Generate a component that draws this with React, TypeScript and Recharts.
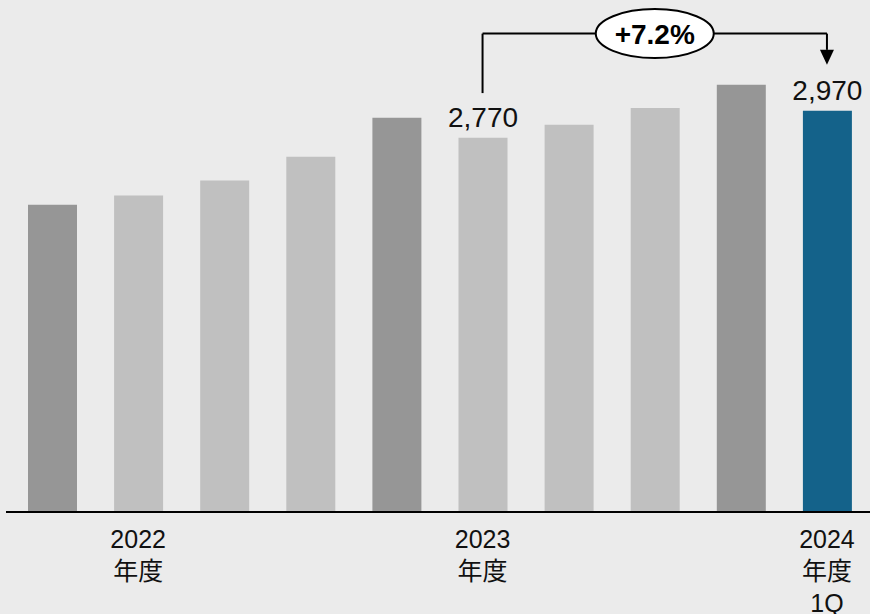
import {
  BarChart,
  Bar,
  Cell,
  XAxis,
  YAxis,
  LabelList,
  ReferenceLine,
  ReferenceDot,
} from "recharts";

const periods = ["p1", "p2", "p3", "p4", "p5", "p6", "p7", "p8", "p9", "p10"];
const values = [2274, 2343, 2454, 2629, 2918, 2770, 2866, 2990, 3162, 2970];
const valueLabels = ["", "", "", "", "", "2,770", "", "", "", "2,970"];
const tickLabels = [
  [],
  ["2022", "年度"],
  [],
  [],
  [],
  ["2023", "年度"],
  [],
  [],
  [],
  ["2024", "年度", "1Q"],
];
const barFills = [
  "#969696", "#c0c0c0", "#c0c0c0", "#c0c0c0", "#969696",
  "#c0c0c0", "#c0c0c0", "#c0c0c0", "#969696", "#14628a",
];
const growthText = "+7.2%";

// bracket levels, in value units
const bracketTop = 3540;
const bracketStart = 3100;
const arrowTip = 3310;
const arrowBase = 3420;

const data = periods.map((p, i) => ({ period: p, value: values[i], label: valueLabels[i] }));

const FONT = "'Liberation Sans', Arial, 'Noto Sans CJK JP', sans-serif";

function PeriodTick(props: any) {
  const { x, y, index } = props;
  const lines = tickLabels[index] || [];
  return (
    <g>
      {lines.map((t: string, i: number) => (
        <text
          key={i}
          x={x}
          y={y + 36 + i * 32}
          textAnchor="middle"
          fontSize={25}
          fontFamily={FONT}
          fill="#111"
        >
          {t}
        </text>
      ))}
    </g>
  );
}

function ValueLabel(props: any) {
  const { x, y, width, value } = props;
  if (!value) return null;
  return (
    <text x={x + width / 2} y={y - 11} textAnchor="middle" fontSize={28} fontFamily={FONT} fill="#111">
      {value}
    </text>
  );
}

function GrowthBadge(props: any) {
  const { cx, cy } = props;
  return (
    <g>
      <ellipse cx={cx} cy={cy} rx={59} ry={24.5} fill="#fff" stroke="#000" strokeWidth={2} />
      <text x={cx} y={cy + 10} textAnchor="middle" fontSize={28} fontWeight="bold" fontFamily={FONT} fill="#000">
        {growthText}
      </text>
    </g>
  );
}

function ArrowHead(props: any) {
  const { cx, cy } = props;
  return <polygon points={`${cx - 7},${cy - 15} ${cx + 7},${cy - 15} ${cx},${cy}`} fill="#000" />;
}

export default function App() {
  return (
    <div style={{ position: "fixed", left: 0, top: 0, width: 870, height: 614, background: "#ebebeb" }}>
      <BarChart width={870} height={614} data={data} margin={{ top: 12, right: 0, bottom: 0, left: 6 }}>
        <XAxis
          dataKey="period"
          height={102}
          interval={0}
          padding={{ left: 3, right: 0 }}
          axisLine={{ stroke: "#000", strokeWidth: 2 }}
          tickLine={false}
          tickSize={0}
          tickMargin={0}
          tick={<PeriodTick />}
        />
        <YAxis hide domain={[0, 3700]} />
        <Bar dataKey="value" barSize={49} isAnimationActive={false}>
          {data.map((d, i) => (
            <Cell key={d.period} fill={barFills[i]} />
          ))}
          <LabelList dataKey="label" content={<ValueLabel />} />
        </Bar>
        <ReferenceLine
          segment={[{ x: "p6", y: bracketStart }, { x: "p6", y: bracketTop }]}
          stroke="#000"
          strokeWidth={2}
        />
        <ReferenceLine
          segment={[{ x: "p6", y: bracketTop }, { x: "p10", y: bracketTop }]}
          stroke="#000"
          strokeWidth={2}
        />
        <ReferenceLine
          segment={[{ x: "p10", y: bracketTop }, { x: "p10", y: arrowBase }]}
          stroke="#000"
          strokeWidth={2}
        />
        <ReferenceDot x="p10" y={arrowTip} shape={<ArrowHead />} />
        <ReferenceDot x="p8" y={bracketTop} shape={<GrowthBadge />} />
      </BarChart>
    </div>
  );
}
